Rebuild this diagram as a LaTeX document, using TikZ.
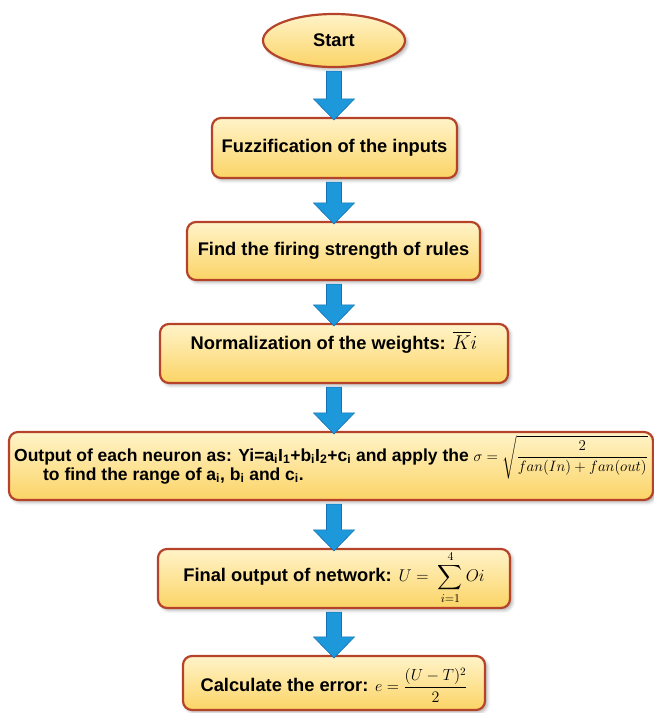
\RequirePackage{fix-cm}
\documentclass[tikz,border=0pt]{standalone}
\usepackage{amsmath}
\usepackage[no-math]{fontspec}
\setmainfont{Liberation Sans}
\usetikzlibrary{shapes.geometric,shadows.blur,calc}

\definecolor{boxtop}{HTML}{FFF3C8}
\definecolor{boxbot}{HTML}{FBD466}
\definecolor{boxedge}{HTML}{B4432A}
\definecolor{arrowfill}{HTML}{1D98DA}
\definecolor{arrowedge}{HTML}{1672B4}

\tikzset{
  softshadow/.style={blur shadow={shadow xshift=2.5pt, shadow yshift=-2.5pt,
      shadow blur radius=3pt, shadow opacity=30}},
  boxfill/.style={draw=boxedge, line width=2.2pt, top color=boxtop,
      bottom color=boxbot, softshadow},
  stepbox/.style={boxfill, rectangle, rounded corners=9pt, inner sep=0pt,
      font=\fontsize{18.3}{21}\selectfont\bfseries, align=center},
  startnode/.style={boxfill, ellipse, inner sep=0pt,
      font=\fontsize{18.3}{21}\selectfont\bfseries},
  flowarrow/.style={fill=arrowfill, draw=arrowedge, line width=0.6pt,
      line join=miter},
}

% block arrow from the bottom of #1 to the top of #2, on the axis of #3
\newcommand\blockarrow[3]{%
  \path let \p1=(#1.south), \p2=(#2.north), \p3=(#3.center) in
    [flowarrow] (\x3-7.5pt,\y1-3pt) -- (\x3-7.5pt,\y2+18pt)
      -- (\x3-20.5pt,\y2+18pt) -- (\x3,\y2-3pt) -- (\x3+20.5pt,\y2+18pt)
      -- (\x3+7.5pt,\y2+18pt) -- (\x3+7.5pt,\y1-3pt) -- cycle;}

\begin{document}
\begin{tikzpicture}[x=1pt,y=1pt]
  \useasboundingbox (0,0) rectangle (654,-713);

  \node[startnode, minimum width=142pt, minimum height=53pt]
    (start) at (334,-40.5) {Start};

  \node[stepbox, minimum width=245pt, minimum height=60pt]
    (fuzz) at (334.5,-148) {Fuzzification of the inputs};

  \node[stepbox, minimum width=293pt, minimum height=58pt]
    (fire) at (333.5,-251) {Find the firing strength of rules};

  \node[stepbox, minimum width=348pt, minimum height=59pt,
        text height=13pt, text depth=21.4pt]
    (norm) at (334,-353.5)
    {Normalization of the weights: {\fontsize{20}{24}\selectfont$\overline{K}i$}};

  \node[stepbox, minimum width=644pt, minimum height=68pt, align=left,
        font=\fontsize{17.5}{21}\selectfont\bfseries,
        text height=34pt, text depth=6pt]
    (neuron) at (331,-466)
    {Output of each neuron as: Yi=a\textsubscript{i}I\textsubscript{1}+b\textsubscript{i}I\textsubscript{2}+c\textsubscript{i} and apply the
     \smash{\fontsize{15}{18}\selectfont$\sigma=\sqrt{\dfrac{2}{fan(In)+fan(out)}}$}\\[-2pt]
     \hspace*{29pt}to find the range of a\textsubscript{i}, b\textsubscript{i} and c\textsubscript{i}.};

  \node[stepbox, minimum width=352pt, minimum height=59pt,
        text height=13pt, text depth=6.6pt]
    (final) at (334,-578.5)
    {Final output of network: \fontsize{17}{20}\selectfont$U=\;\displaystyle\sum_{i=1}^{4}Oi$};

  \node[stepbox, minimum width=302pt, minimum height=54pt,
        text height=21.4pt, text depth=4pt]
    (error) at (334,-683)
    {Calculate the error: \fontsize{16}{19}\selectfont$e=\dfrac{(U-T)^2}{2}$};

  \blockarrow{start}{fuzz}{start}
  \blockarrow{fuzz}{fire}{start}
  \blockarrow{fire}{norm}{start}
  \blockarrow{norm}{neuron}{start}
  \blockarrow{neuron}{final}{start}
  \blockarrow{final}{error}{start}
\end{tikzpicture}
\end{document}
